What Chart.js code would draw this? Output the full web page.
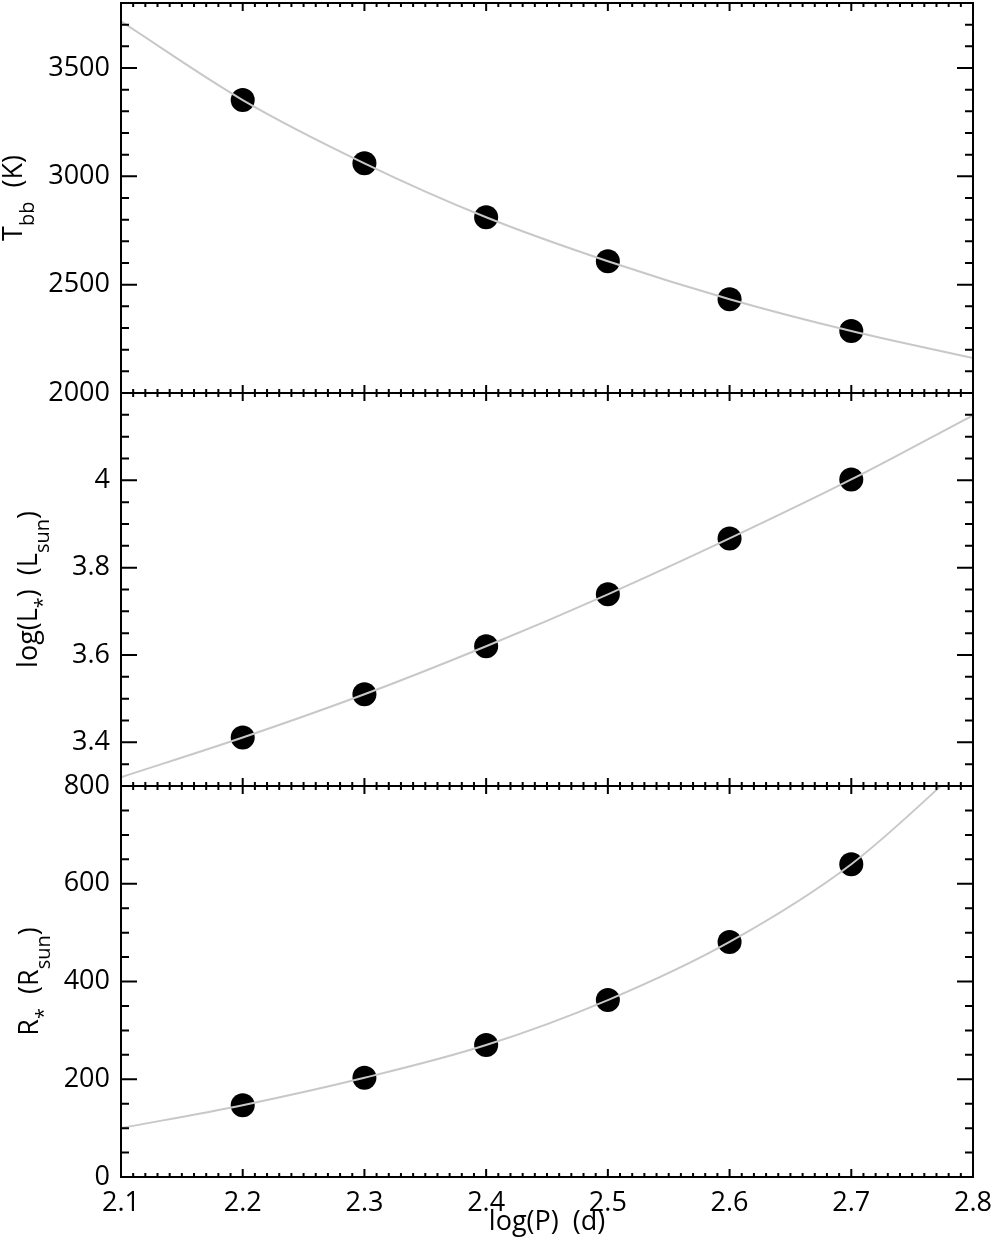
<!DOCTYPE html>
<html lang="en">
<head>
  <meta charset="UTF-8" />
  <title>Tbb, L and R vs log(P)</title>
  <script src="https://cdn.jsdelivr.net/npm/chart.js"></script>
  <style>
    body { margin: 0; background: #fff; }
    .wrap { position: relative; width: 996px; height: 1247px; }
    .wrap canvas { position: absolute; left: 0; top: 0; }
  </style>
</head>
<body>
<div class="wrap">
  <canvas id="tbbChart" width="996" height="1247"></canvas>
  <canvas id="lumChart" width="996" height="1247"></canvas>
  <canvas id="radChart" width="996" height="1247"></canvas>
</div>

<script>
  // measured points
  const logP = [2.2, 2.3, 2.4, 2.5, 2.6, 2.7];
  const tbb = [3352, 3060, 2811, 2608, 2433, 2286];
  const logL = [3.411, 3.510, 3.620, 3.739, 3.867, 4.002];
  const rStar = [147, 203, 270, 362, 481, 640];

  // grey fit curve
  const fitLogP = [2.1, 2.2, 2.3, 2.4, 2.5, 2.6, 2.7, 2.8];
  const fitTbb = [3715, 3352, 3060, 2811, 2608, 2433, 2286, 2161];
  const fitLogL = [3.320, 3.411, 3.510, 3.620, 3.739, 3.867, 4.002, 4.149];
  const fitR = [100, 147, 203, 270, 362, 481, 640, 860];

  // tick labels
  const xTicks = [2.1, 2.2, 2.3, 2.4, 2.5, 2.6, 2.7, 2.8];
  const tbbTicks = [2000, 2500, 3000, 3500];
  const logLTicks = [3.4, 3.6, 3.8, 4];
  const rTicks = [0, 200, 400, 600, 800];

  Chart.defaults.font.family = "'Open Sans', sans-serif";
  Chart.defaults.font.size = 27;
  Chart.defaults.color = "#000";

  const FONT = "'Open Sans', sans-serif";

  function drawRotTitle(ctx, parts, bx, cy) {
    const main = "27px " + FONT, sub = "20px " + FONT;
    ctx.save();
    let total = 0;
    parts.forEach(p => { ctx.font = p.sub ? sub : main; total += ctx.measureText(p.t).width; });
    ctx.translate(bx, cy);
    ctx.rotate(-Math.PI / 2);
    ctx.fillStyle = "#000";
    ctx.textBaseline = "alphabetic";
    ctx.textAlign = "left";
    let pos = -total / 2;
    parts.forEach(p => {
      ctx.font = p.sub ? sub : main;
      ctx.fillText(p.t, pos, p.sub ? 12 : 0);
      pos += ctx.measureText(p.t).width;
    });
    ctx.restore();
  }

  // frame with inward ticks on all four sides + y title
  const framePlugin = {
    id: "frame",
    afterDraw(chart, args, o) {
      const { ctx, chartArea: a } = chart;
      const x = chart.scales.x, y = chart.scales.y;
      ctx.save();
      ctx.strokeStyle = "#000";
      ctx.lineWidth = 2;
      ctx.beginPath();
      const nx = Math.round((x.max - x.min) / 0.01);
      for (let i = 0; i <= nx; i++) {
        const px = x.getPixelForValue(x.min + i * 0.01);
        const len = i % 10 === 0 ? 8 : 4;
        ctx.moveTo(px, a.bottom); ctx.lineTo(px, a.bottom - len);
        ctx.moveTo(px, a.top); ctx.lineTo(px, a.top + len);
      }
      const ny = Math.round((y.max - y.min) / o.minor);
      for (let i = 0; i <= ny; i++) {
        const v = y.min + i * o.minor;
        const r = v / o.major;
        const len = Math.abs(r - Math.round(r)) < 1e-6 ? 16 : 8;
        const py = y.getPixelForValue(v);
        ctx.moveTo(a.left, py); ctx.lineTo(a.left + len, py);
        ctx.moveTo(a.right, py); ctx.lineTo(a.right - len, py);
      }
      ctx.stroke();
      ctx.strokeRect(a.left, a.top, a.right - a.left, a.bottom - a.top);
      ctx.restore();
      drawRotTitle(ctx, o.title, o.titleX, (a.top + a.bottom) / 2);
    }
  };

  function pts(xs, ys) {
    return xs.map((v, i) => ({ x: v, y: ys[i] }));
  }

  function makePanel(id, cfg) {
    const showX = !!cfg.showX;
    new Chart(document.getElementById(id), {
      type: "scatter",
      data: {
        datasets: [
          {
            data: pts(fitLogP, cfg.fit),
            showLine: true,
            borderColor: "#c8c8c8",
            borderWidth: 2,
            pointRadius: 0,
            cubicInterpolationMode: "monotone"
          },
          {
            data: pts(logP, cfg.vals),
            showLine: false,
            pointRadius: 12,
            pointBackgroundColor: "#000",
            pointBorderColor: "#000",
            pointBorderWidth: 0
          }
        ]
      },
      options: {
        responsive: false,
        animation: false,
        layout: {
          autoPadding: false,
          padding: { left: 0, right: 23, top: cfg.top, bottom: showX ? 0 : 1247 - cfg.bottom }
        },
        plugins: {
          legend: { display: false },
          tooltip: { enabled: false },
          frame: { minor: cfg.minor, major: cfg.major, title: cfg.title, titleX: cfg.titleX }
        },
        scales: {
          x: {
            type: "linear",
            min: 2.1,
            max: 2.8,
            display: showX,
            grid: { display: false, drawTicks: false },
            border: { display: false },
            afterBuildTicks: s => { s.ticks = xTicks.map(v => ({ value: v })); },
            afterFit: s => {
              if (showX) s.height = 1247 - cfg.bottom;
              s.paddingLeft = 0; s.paddingRight = 0;
            },
            ticks: { padding: 10, maxRotation: 0, callback: v => v.toFixed(1) },
            title: { display: true, text: "log(P)  (d)", padding: { top: 0, bottom: 8 } }
          },
          y: {
            min: cfg.min,
            max: cfg.max,
            grid: { display: false, drawTicks: false },
            border: { display: false },
            afterBuildTicks: s => { s.ticks = cfg.ticks.map(v => ({ value: v })); },
            afterFit: s => { s.width = 121; s.paddingTop = 0; s.paddingBottom = 0; },
            ticks: { padding: 11, callback: cfg.fmt }
          }
        }
      },
      plugins: [framePlugin]
    });
  }

  makePanel("tbbChart", {
    vals: tbb, fit: fitTbb, ticks: tbbTicks, min: 2000, max: 3800,
    top: 3, bottom: 393, minor: 100, major: 500,
    fmt: v => String(v),
    titleX: 22,
    title: [{ t: "T" }, { t: "bb", sub: true }, { t: "  (K)" }]
  });

  makePanel("lumChart", {
    vals: logL, fit: fitLogL, ticks: logLTicks, min: 3.3, max: 4.2,
    top: 393, bottom: 786, minor: 0.05, major: 0.2,
    fmt: v => String(Math.round(v * 10) / 10),
    titleX: 37,
    title: [{ t: "log(L" }, { t: "*", sub: true }, { t: ")  (L" }, { t: "sun", sub: true }, { t: ")" }]
  });

  makePanel("radChart", {
    vals: rStar, fit: fitR, ticks: rTicks, min: 0, max: 800,
    top: 786, bottom: 1177, minor: 50, major: 200, showX: true,
    fmt: v => String(v),
    titleX: 38,
    title: [{ t: "R" }, { t: "*", sub: true }, { t: "  (R" }, { t: "sun", sub: true }, { t: ")" }]
  });
</script>
</body>
</html>
